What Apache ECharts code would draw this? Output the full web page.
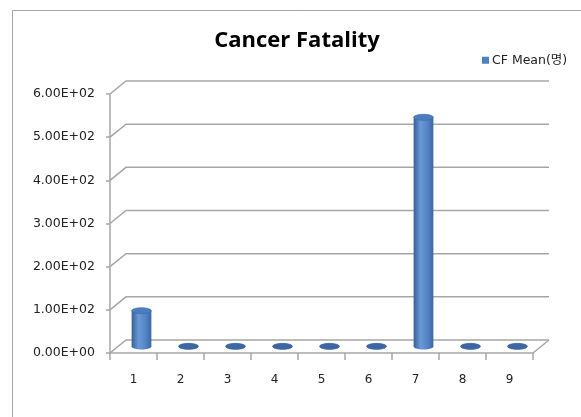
<!DOCTYPE html>
<html>
<head>
<meta charset="utf-8">
<script src="https://cdn.jsdelivr.net/npm/echarts@6/dist/echarts.min.js"></script>
<style>
  html, body { margin: 0; padding: 0; background: #fff; }
  #chart { width: 581px; height: 417px; }
</style>
</head>
<body>
<div id="chart"></div>
<script>
// Categories and values of the Cancer Fatality chart
const categories = ['1', '2', '3', '4', '5', '6', '7', '8', '9'];
const cfMean = [83, 0.4, 0.3, 0.3, 0.3, 0.3, 531, 0.3, 0.3];
const yTicks = [0, 100, 200, 300, 400, 500, 600];
const seriesName = 'CF Mean(명)';

// pseudo-3D depth of the plot box (back wall offset) in pixels
const DEPTH_X = 16, DEPTH_Y = -13;
const LABEL_FONT = 'DejaVu Sans, "Noto Sans CJK KR", sans-serif';

function sci(v) {
  if (v === 0) return '0.00E+00';
  const e = Math.floor(Math.log10(Math.abs(v)));
  const m = v / Math.pow(10, e);
  return m.toFixed(2) + 'E' + (e < 0 ? '-' : '+') + String(Math.abs(e)).padStart(2, '0');
}

const chart = echarts.init(document.getElementById('chart'), null, { renderer: 'canvas' });

// back wall gridlines with the diagonal connectors from the front axis
function renderWall(params, api) {
  const cs = params.coordSys;
  const v = api.value(1);
  const y = api.coord([0, v])[1];
  const x0 = cs.x, x1 = cs.x + cs.width;
  const style = { stroke: '#a6a6a6', lineWidth: 1.5, fill: null };
  const children = [{
    type: 'polyline',
    shape: { points: [[x0, y], [x0 + DEPTH_X, y + DEPTH_Y], [x1 + DEPTH_X, y + DEPTH_Y]] },
    style: style
  }];
  if (v === 0) {
    children.push({
      type: 'line',
      shape: { x1: x1, y1: y, x2: x1 + DEPTH_X, y2: y + DEPTH_Y },
      style: style
    });
  }
  return { type: 'group', children: children };
}

// cylinder bars placed at mid depth
function renderCylinder(params, api) {
  const idx = api.value(0);
  const top = api.coord([idx, api.value(1)]);
  const base = api.coord([idx, 0]);
  const w = api.size([1, 0])[0] * 0.42;
  const cx = top[0] + DEPTH_X / 2;
  const ty = top[1] + DEPTH_Y / 2;
  const by = base[1] + DEPTH_Y / 2;
  const rx = w / 2, ry = 3;
  const bodyFill = {
    type: 'linear', x: 0, y: 0, x2: 1, y2: 0,
    colorStops: [
      { offset: 0, color: '#365f98' },
      { offset: 0.35, color: '#6a99d6' },
      { offset: 0.7, color: '#5584c6' },
      { offset: 1, color: '#3b67a4' }
    ]
  };
  const children = [
    { type: 'ellipse', shape: { cx: cx, cy: by, rx: rx, ry: ry }, style: { fill: bodyFill } },
    { type: 'rect', shape: { x: cx - rx, y: ty, width: w, height: Math.max(0, by - ty) }, style: { fill: bodyFill } },
    { type: 'ellipse', shape: { cx: cx, cy: ty, rx: rx, ry: ry },
      style: { fill: (by - ty) < 2 ? '#3d66a2' : '#4c7dc0', stroke: '#3d6aa6', lineWidth: 0.6 } }
  ];
  return { type: 'group', children: children };
}

const option = {
  animation: false,
  backgroundColor: '#ffffff',
  title: {
    text: 'Cancer Fatality',
    left: 292, top: 25, textAlign: 'center',
    textStyle: { fontFamily: '"Open Sans", sans-serif', fontWeight: 'bold', fontSize: 22, color: '#000' }
  },
  legend: {
    data: [seriesName],
    left: 477, top: 49,
    icon: 'rect', itemWidth: 7, itemHeight: 7, itemGap: 4,
    textStyle: { fontFamily: LABEL_FONT, fontSize: 12.5, color: '#222', padding: [0, 0, 0, -2] }
  },
  graphic: [{
    type: 'rect', shape: { x: 12.5, y: 10.5, width: 620, height: 450 },
    style: { fill: null, stroke: '#a6a6a6', lineWidth: 1 }, silent: true, z: -10
  }],
  grid: { left: 110, right: 48, top: 94, bottom: 64, containLabel: false },
  xAxis: {
    type: 'category',
    data: categories,
    axisLine: { lineStyle: { color: '#a6a6a6', width: 1.5 } },
    axisTick: { show: true, length: 7, lineStyle: { color: '#a6a6a6', width: 1.5 } },
    axisLabel: { margin: 21, fontFamily: LABEL_FONT, fontSize: 12, color: '#222' },
    splitLine: { show: false }
  },
  yAxis: {
    type: 'value',
    min: 0, max: 600, interval: 100,
    axisLine: { show: true, lineStyle: { color: '#a6a6a6', width: 1.5 } },
    axisTick: { show: true, length: 4, lineStyle: { color: '#a6a6a6', width: 1.5 } },
    axisLabel: { margin: 15, fontFamily: LABEL_FONT, fontSize: 12.5, color: '#222', formatter: sci },
    splitLine: { show: false }
  },
  series: [
    {
      name: 'wall',
      type: 'custom',
      renderItem: renderWall,
      data: yTicks.map(v => [0, v]),
      encode: { x: 0, y: 1 },
      clip: false, silent: true, z: 1
    },
    {
      name: seriesName,
      type: 'custom',
      renderItem: renderCylinder,
      itemStyle: { color: '#4f81bd' },
      data: cfMean.map((v, i) => [i, v]),
      encode: { x: 0, y: 1 },
      clip: false, z: 3
    }
  ]
};

chart.setOption(option);
</script>
</body>
</html>
